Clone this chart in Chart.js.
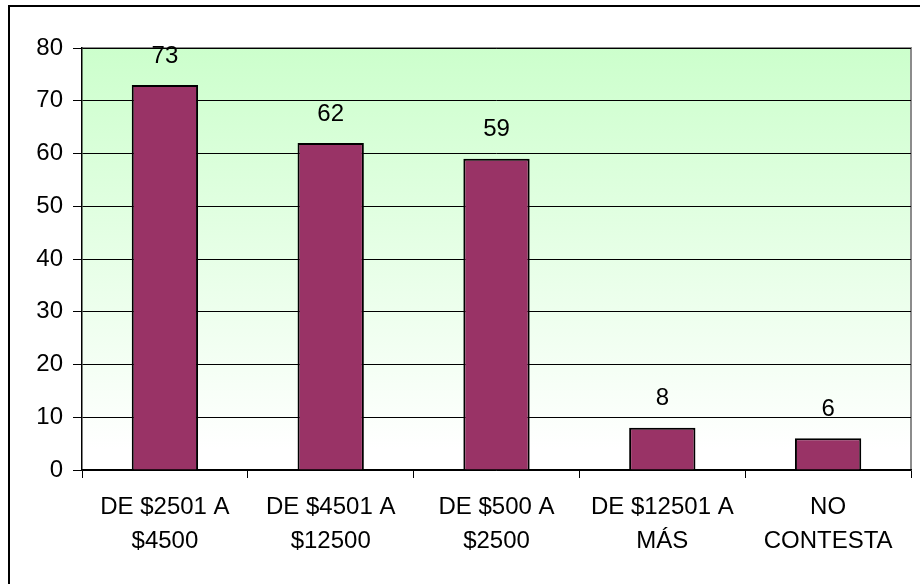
<!DOCTYPE html>
<html>
<head>
<meta charset="utf-8">
<script src="https://cdn.jsdelivr.net/npm/chart.js@4"></script>
<style>
  html,body{margin:0;padding:0;background:#fff;overflow:hidden;}
  #wrap{position:relative;width:920px;height:584px;}
</style>
</head>
<body>
<div id="wrap"><canvas id="c" width="920" height="584"></canvas></div>
<script>
// datos del grafico
const categories = [['DE $2501 A','$4500'], ['DE $4501 A','$12500'], ['DE $500 A','$2500'], ['DE $12501 A','MÁS'], ['NO','CONTESTA']];
const values = [73, 62, 59, 8, 6];
const yTicks = [0, 10, 20, 30, 40, 50, 60, 70, 80];

const font = {family: '"Liberation Sans", Arial, sans-serif', size: 24};
Chart.defaults.font.family = font.family;
Chart.defaults.color = '#000';

// fondo degradado del area + marco exterior
const fondo = {
  id: 'fondo',
  beforeDraw(chart){
    const {ctx, chartArea:a} = chart;
    ctx.save();
    ctx.strokeStyle = '#000'; ctx.lineWidth = 2;
    ctx.strokeRect(9, 6, 1000, 1000);
    const g = ctx.createLinearGradient(0, a.top, 0, a.bottom);
    g.addColorStop(0, '#ccffcc'); g.addColorStop(0.95, '#ffffff');
    ctx.fillStyle = g;
    ctx.fillRect(a.left, a.top, a.right - a.left, a.bottom - a.top);
    ctx.strokeStyle = '#8c8c8c'; ctx.lineWidth = 2;
    ctx.beginPath();
    ctx.moveTo(a.left, a.top); ctx.lineTo(a.right, a.top); ctx.lineTo(a.right, a.bottom);
    ctx.stroke();
    ctx.restore();
  }
};
// etiquetas de valor sobre las barras
const etiquetas = {
  id: 'etiquetas',
  afterDatasetsDraw(chart){
    const {ctx} = chart;
    const meta = chart.getDatasetMeta(0);
    ctx.save();
    ctx.font = font.size + 'px ' + font.family;
    ctx.fillStyle = '#000'; ctx.textAlign = 'center'; ctx.textBaseline = 'bottom';
    meta.data.forEach((bar, i) => ctx.fillText(values[i], bar.x, bar.y - 17));
    ctx.restore();
  }
};

new Chart(document.getElementById('c'), {
  type: 'bar',
  data: {labels: categories, datasets: [{data: values, backgroundColor: '#993366', borderColor: '#000', borderWidth: 2, barPercentage: 0.5, categoryPercentage: 0.8}]},
  options: {
    responsive: false, animation: false,
    layout: {padding: {left: 0, top: 48, right: 9, bottom: 0}},
    plugins: {legend: {display: false}, tooltip: {enabled: false}},
    scales: {
      x: {
        grid: {offset: true, drawOnChartArea: false, color: '#000', tickLength: 8},
        border: {color: '#000', width: 1.5},
        ticks: {font: {family: font.family, size: 24, lineHeight: 1.4}, padding: 13, maxRotation: 0, autoSkip: false},
        afterFit(s){ s.height = 114; }
      },
      y: {
        min: 0, max: 80,
        afterBuildTicks(s){ s.ticks = yTicks.map(v => ({value: v})); },
        grid: {color: '#000', lineWidth: 1, tickLength: 9},
        border: {color: '#000', width: 1.5},
        ticks: {font: font, padding: 10},
        afterFit(s){ s.width = 82; }
      }
    }
  },
  plugins: [fondo, etiquetas]
});
</script>
</body>
</html>
